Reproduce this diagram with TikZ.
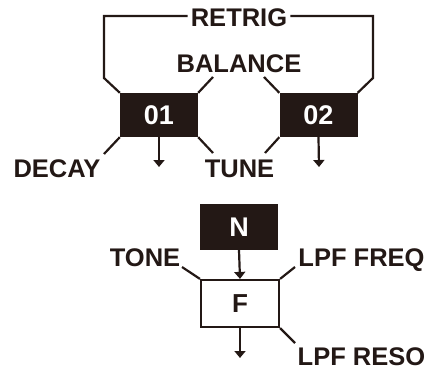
\documentclass[tikz,border=0pt]{standalone}
\usepackage{fontspec}
\setmainfont{Liberation Sans}
\usetikzlibrary{arrows.meta}
\definecolor{ink}{RGB}{35,24,21}
\begin{document}
\begin{tikzpicture}[x=1pt,y=-1pt,
  lbl/.style={font=\fontsize{25.5}{28}\selectfont\bfseries, text=ink, inner sep=0pt, anchor=base},
  blk/.style={fill=ink, text=white, font=\fontsize{27}{28}\selectfont\bfseries, minimum width=78pt, minimum height=44pt, inner sep=0pt},
  wbox/.style={draw=ink, line width=2.2pt, fill=white, text=ink, font=\fontsize{26}{28}\selectfont\bfseries, minimum width=78pt, minimum height=47pt, inner sep=0pt},
  ln/.style={draw=ink, line width=2.2pt},
  arr/.style={ln, -{Triangle[width=11pt,length=7pt]}}]
\useasboundingbox (0,0) rectangle (429,369);
% boxes
\node[blk] (b1) at (159,115) {01};
\node[blk] (b2) at (318.5,115) {02};
\node[blk, minimum height=46pt] (bn) at (239,227) {N};
\node[wbox] (bf) at (240,303.5) {F};
% labels
\node[lbl] (retrig) at (239,27) {RETRIG};
\node[lbl] (balance) at (239,73) {BALANCE};
\node[lbl] (decay) at (57,178) {DECAY};
\node[lbl] (tune) at (239.5,178) {TUNE};
\node[lbl] (tone) at (145,266) {TONE};
\node[lbl] (freq) at (361.5,266) {LPF FREQ};
\node[lbl] (reso) at (361.5,365) {LPF RESO};
% free ends
\coordinate (rl1) at (104,78);
\coordinate (rl2) at (104,16);
\coordinate (rr1) at (373,78);
\coordinate (rr2) at (373,16);
\coordinate (balL) at (213,77);
\coordinate (balR) at (264,77);
\coordinate (dec) at (104,154);
\coordinate (tunL) at (213,153);
\coordinate (tunR) at (265,153);
\coordinate (o1) at (159,167);
\coordinate (o2) at (319,167);
\coordinate (toneE) at (182,267);
\coordinate (freqE) at (295,267);
\coordinate (resoE) at (295,343);
\coordinate (of) at (240,358);
% retrig
\draw[ln] (b1.north west) -- (rl1) -- (rl2) -- ([xshift=-3pt]retrig.west |- rl2);
\draw[ln] (b2.north east) -- (rr1) -- (rr2) -- ([xshift=3pt]retrig.east |- rr2);
% balance
\draw[ln] (b1.north east) -- (balL);
\draw[ln] (b2.north west) -- (balR);
% decay, tune
\draw[ln] (b1.south west) -- (dec);
\draw[ln] (b1.south east) -- (tunL);
\draw[ln] (b2.south west) -- (tunR);
% outputs
\draw[arr] (b1.south) -- (o1);
\draw[arr] (b2.south) -- (o2);
\draw[arr] (bn.south) -- (bf.north);
\draw[arr] (bf.south) -- (of);
% filter params
\draw[ln] (bf.north west) -- (toneE);
\draw[ln] (bf.north east) -- (freqE);
\draw[ln] (bf.south east) -- (resoE);
\end{tikzpicture}
\end{document}
